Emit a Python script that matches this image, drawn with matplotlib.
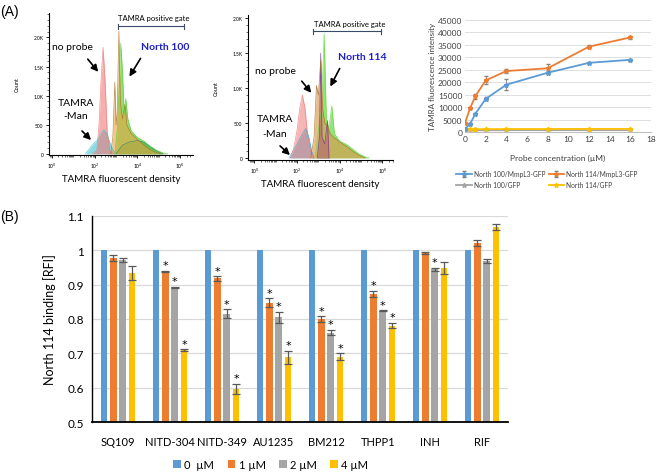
import numpy as np
import matplotlib
matplotlib.use("Agg")
import matplotlib.pyplot as plt
from matplotlib.ticker import FixedLocator, MultipleLocator, LogLocator, NullFormatter

plt.rcParams['font.family'] = ['Lato', 'DejaVu Sans']

# ---------------- data ----------------
# Panel A1 (North 100) histograms: log10 intensity, counts
a1_noprobe_lx = [1.9, 2.1, 2.2, 2.3, 2.39, 2.48, 2.58, 2.7, 2.85]
a1_noprobe_ct = [0, 60, 500, 1300, 1830, 1300, 400, 60, 0]
a1_man_lx = [1.55, 1.7, 1.9, 2.1, 2.3, 2.42, 2.55, 2.7, 2.85, 3.0]
a1_man_ct = [0, 60, 160, 230, 350, 420, 360, 200, 70, 0]
a1_orange_lx = [2.75, 2.85, 2.94, 3.0, 3.05, 3.13, 3.2, 3.3, 3.42, 3.5, 3.7, 4.0, 4.3, 4.6, 4.9, 5.1]
a1_orange_ct = [0, 300, 1230, 500, 700, 2110, 900, 600, 850, 500, 350, 250, 150, 70, 20, 0]
a1_green_lx = [2.95, 3.05, 3.15, 3.22, 3.3, 3.38, 3.45, 3.55, 3.7, 4.0, 4.3, 4.6, 4.9, 5.2, 5.4]
a1_green_ct = [0, 400, 1200, 1900, 1400, 700, 950, 600, 400, 280, 220, 130, 60, 15, 0]
a1_teal_lx = [3.0, 3.3, 3.6, 4.0, 4.3, 4.6, 4.9, 5.2]
a1_teal_ct = [0, 150, 200, 230, 200, 120, 50, 0]

# Panel A2 (North 114) histograms
a2_noprobe_lx = [1.7, 1.85, 2.0, 2.12, 2.25, 2.38, 2.5, 2.65, 2.8]
a2_noprobe_ct = [0, 150, 400, 700, 906, 700, 300, 80, 0]
a2_man_lx = [1.62, 1.8, 2.0, 2.2, 2.41, 2.55, 2.68, 2.8]
a2_man_ct = [0, 90, 200, 320, 427, 300, 100, 0]
a2_orange_lx = [2.64, 2.8, 2.91, 3.0, 3.11, 3.2, 3.3, 3.43, 3.55, 3.7, 4.0, 4.3, 4.6, 4.9, 5.2]
a2_orange_ct = [0, 300, 1040, 900, 1400, 700, 500, 450, 350, 300, 230, 170, 100, 40, 0]
a2_purple_lx = [2.95, 3.05, 3.11, 3.17, 3.3, 3.43, 3.5]
a2_purple_ct = [0, 300, 1500, 300, 200, 537, 0]
a2_green_lx = [2.85, 3.0, 3.15, 3.27, 3.38, 3.5, 3.63, 3.75, 4.0, 4.3, 4.6, 4.9, 5.2, 5.38]
a2_green_ct = [0, 400, 700, 1785, 500, 450, 750, 350, 240, 200, 130, 60, 15, 0]

# Panel A3 line chart
conc = [0, 0.5, 1, 2, 4, 8, 12, 16]
n100_mmpl3 = [1200, 3300, 7300, 13300, 19000, 23800, 27800, 29000]
n100_mmpl3_err = [300, 400, 500, 600, 2200, 600, 500, 500]
n114_mmpl3 = [3700, 9600, 14400, 20700, 24500, 25600, 34300, 38000]
n114_mmpl3_err = [300, 500, 1000, 1600, 800, 1900, 500, 700]
n100_gfp = [700, 700, 700, 700, 750, 750, 750, 750]
n114_gfp = [1100, 1100, 1150, 1150, 1200, 1200, 1250, 1250]
line_labels = ["North 100/MmpL3-GFP", "North 114/MmpL3-GFP", "North 100/GFP", "North 114/GFP"]

# Panel B bar chart
drugs = ["SQ109", "NITD-304", "NITD-349", "AU1235", "BM212", "THPP1", "INH", "RIF"]
doses = ["0  \u00b5M", "1 \u00b5M", "2 \u00b5M", "4 \u00b5M"]
rfi_0 = [1, 1, 1, 1, 1, 1, 1, 1]
rfi_1 = [0.978, 0.938, 0.918, 0.848, 0.800, 0.873, 0.992, 1.021]
rfi_2 = [0.972, 0.892, 0.815, 0.805, 0.760, 0.824, 0.945, 0.970]
rfi_4 = [0.933, 0.710, 0.597, 0.688, 0.690, 0.781, 0.948, 1.068]
err_0 = [0, 0, 0, 0, 0, 0, 0, 0]
err_1 = [0.008, 0.002, 0.007, 0.012, 0.008, 0.010, 0.004, 0.008]
err_2 = [0.006, 0.002, 0.013, 0.016, 0.008, 0.001, 0.004, 0.006]
err_4 = [0.020, 0.002, 0.015, 0.020, 0.010, 0.008, 0.018, 0.008]
sig_1 = [0, 1, 1, 1, 1, 1, 0, 0]
sig_2 = [0, 1, 1, 1, 1, 1, 1, 0]
sig_4 = [0, 1, 1, 1, 1, 1, 0, 0]

# ---------------- figure ----------------
W, H = 656, 477
fig = plt.figure(figsize=(W / 100, H / 100), dpi=100)


def px_axes(l, t, r, b):
    return fig.add_axes([l / W, 1 - b / H, (r - l) / W, (b - t) / H])


def fig_xy(x, y):
    return (x / W, 1 - y / H)


def hist_axes(ax, xl, yl):
    ax.set_xscale('log')
    ax.set_xlim(*xl)
    ax.set_ylim(*yl)
    for s in ['top', 'right']:
        ax.spines[s].set_visible(False)
    for s in ['left', 'bottom']:
        ax.spines[s].set_linewidth(0.8)
    ax.xaxis.set_major_locator(FixedLocator([1, 1e2, 1e4, 1e6]))
    ax.xaxis.set_minor_locator(LogLocator(base=10, subs=np.arange(1, 10)))
    ax.xaxis.set_minor_formatter(NullFormatter())
    ax.set_xticklabels(["10$^0$", "10$^2$", "10$^4$", "10$^6$"])
    ax.set_yticks([0, 500, 1000, 1500, 2000])
    ax.set_yticklabels(["0", "500", "1.0K", "1.5K", "2.0K"])
    ax.yaxis.set_minor_locator(MultipleLocator(100))
    ax.tick_params(labelsize=3.5, length=2.5, width=0.6, pad=1.5)
    ax.tick_params(which='minor', length=1.3, width=0.4)
    ax.set_ylabel("Count", fontsize=4, labelpad=10)
    ax.set_xlabel("TAMRA fluorescent density", fontsize=7, labelpad=3)


def fill(ax, lx, ct, color, alpha=0.55, ec=None):
    xx = 10 ** np.array(lx, dtype=float)
    ax.fill_between(xx, 0, ct, color=color, alpha=alpha, lw=0)
    ax.plot(xx, ct, color=ec or color, lw=0.5, alpha=0.8)


# Panel A1
ax1 = px_axes(49, 14, 193, 156)
hist_axes(ax1, (10 ** -0.14, 10 ** 6.6), (-20, 2420))
fill(ax1, a1_man_lx, a1_man_ct, '#3EC4D0', 0.6)
fill(ax1, a1_noprobe_lx, a1_noprobe_ct, '#F07878', 0.6)
fill(ax1, a1_teal_lx, a1_teal_ct, '#2E7D6A', 0.6)
fill(ax1, a1_green_lx, a1_green_ct, '#52D12E', 0.65)
fill(ax1, a1_orange_lx, a1_orange_ct, '#E8A040', 0.6, '#B07020')

# Panel A2
ax2 = px_axes(248, 16, 393, 161)
hist_axes(ax2, (10 ** -0.3, 10 ** 6.5), (-30, 2050))
fill(ax2, a2_man_lx, a2_man_ct, '#3EA8D0', 0.6)
fill(ax2, a2_noprobe_lx, a2_noprobe_ct, '#F07878', 0.55)
fill(ax2, a2_green_lx, a2_green_ct, '#62DA3A', 0.7)
fill(ax2, a2_purple_lx, a2_purple_ct, '#7A2A9A', 0.75)
fill(ax2, a2_orange_lx, a2_orange_ct, '#D89A50', 0.65, '#A86A20')

# Annotations for A1 / A2
tkw = dict(fontsize=7.5, transform=fig.transFigure, ha='center', va='center')
fig.text(*fig_xy(72, 47), "no probe", **tkw)
fig.text(*fig_xy(76, 103), "TAMRA", **tkw)
fig.text(*fig_xy(76, 117), "-Man", **tkw)
fig.text(*fig_xy(165, 48), "North 100", color='#1F1FC8', fontweight='bold', **tkw)
fig.text(*fig_xy(275, 72), "no probe", **tkw)
fig.text(*fig_xy(275, 120), "TAMRA", **tkw)
fig.text(*fig_xy(275, 135), "-Man", **tkw)
fig.text(*fig_xy(362, 57), "North 114", color='#1F1FC8', fontweight='bold', **tkw)
fig.text(*fig_xy(154, 19), "TAMRA positive gate", fontsize=5.5, transform=fig.transFigure, ha='center', va='center')
fig.text(*fig_xy(350, 25), "TAMRA positive gate", fontsize=5.5, transform=fig.transFigure, ha='center', va='center')

akw = dict(arrowstyle='-|>,head_length=0.5,head_width=0.25', color='black', lw=1.2)
for (x0, y0, x1, y1) in [(86, 58, 100, 75), (80, 130, 93, 143), (142, 57, 128, 80),
                         (300, 80, 313, 96), (278, 145, 292, 158), (341, 67, 329, 90)]:
    fig.add_artist(matplotlib.patches.FancyArrowPatch(fig_xy(x0, y0), fig_xy(x1, y1),
                                                      transform=fig.transFigure, mutation_scale=8, **akw))

for (xa, xb, yy) in [(118, 184, 27), (313, 381, 32)]:
    fig.add_artist(matplotlib.lines.Line2D([xa / W, xb / W], [1 - yy / H] * 2, color='#3A4A6A', lw=0.8))
    for xe in (xa, xb):
        fig.add_artist(matplotlib.lines.Line2D([xe / W] * 2, [1 - (yy - 2.5) / H, 1 - (yy + 2.5) / H],
                                               color='#3A4A6A', lw=0.8))

fig.text(0.0, 1 - 12 / H, "(A)", fontsize=10, va='center', ha='left', family=['Liberation Sans'])
fig.text(0.0, 1 - 217 / H, "(B)", fontsize=10, va='center', ha='left', family=['Liberation Sans'])

# Panel A3
ax3 = px_axes(465, 21, 651, 133)
cols3 = ['#5B9BD5', '#ED7D31', '#A5A5A5', '#FFC000']
h0 = ax3.errorbar(conc, n100_mmpl3, yerr=n100_mmpl3_err, color=cols3[0], ecolor='#808080', elinewidth=0.6,
                  capsize=1.5, lw=1.3, marker='*', ms=3.5, label=line_labels[0])
h1 = ax3.errorbar(conc, n114_mmpl3, yerr=n114_mmpl3_err, color=cols3[1], ecolor='#808080', elinewidth=0.6,
                  capsize=1.5, lw=1.3, marker='*', ms=3.5, label=line_labels[1])
h2, = ax3.plot(conc, n100_gfp, color=cols3[2], lw=1.3, marker='*', ms=3.5, label=line_labels[2])
h3, = ax3.plot(conc, n114_gfp, color=cols3[3], lw=1.3, marker='*', ms=3.5, label=line_labels[3])
ax3.set_xlim(0, 18)
ax3.set_ylim(0, 45000)
ax3.set_xticks(range(0, 19, 2))
ax3.set_yticks(range(0, 45001, 5000))
ax3.grid(axis='y', color='#D9D9D9', lw=0.6)
ax3.set_axisbelow(True)
for s in ['top', 'right', 'left']:
    ax3.spines[s].set_visible(False)
ax3.spines['bottom'].set_color('#BFBFBF')
ax3.tick_params(labelsize=6, length=0, pad=2, colors='#404040')
ax3.set_xlabel("Probe concentration (\u00b5M)", fontsize=6, color='#404040', labelpad=9)
ax3.set_ylabel("TAMRA fluorescence intensity", fontsize=5.8, color='#404040', labelpad=1)
ax3.legend([h0, h2, h1, h3], [line_labels[0], line_labels[2], line_labels[1], line_labels[3]],
           ncol=2, fontsize=4.8, frameon=False, loc='center', bbox_to_anchor=(0.44, -0.42),
           handlelength=2.3, columnspacing=0.5, handletextpad=0.3, labelspacing=0.55, labelcolor='#404040',
           borderpad=0.1)

# Panel B
axb = px_axes(92, 217, 508, 423)
colsb = ['#5B9BD5', '#ED7D31', '#A5A5A5', '#FFC000']
vals = [rfi_0, rfi_1, rfi_2, rfi_4]
errs = [err_0, err_1, err_2, err_4]
sigs = [None, sig_1, sig_2, sig_4]
x = np.arange(len(drugs))
step, bw = 0.18, 0.125
for i in range(4):
    xi = x + (i - 1.5) * step
    axb.bar(xi, vals[i], width=bw, color=colsb[i], label=doses[i], zorder=2)
    if i > 0:
        axb.errorbar(xi, vals[i], yerr=errs[i], fmt='none', ecolor='#595959', elinewidth=0.9,
                     capsize=3, capthick=0.9, zorder=3)
        for j in range(len(drugs)):
            if sigs[i][j]:
                axb.text(xi[j], vals[i][j] + errs[i][j] + 0.016, "*", ha='center', va='center',
                         fontsize=8, zorder=4, family=['DejaVu Sans'])
axb.set_xlim(-0.5, 7.5)
axb.set_ylim(0.5, 1.1)
axb.set_yticks([0.5, 0.6, 0.7, 0.8, 0.9, 1.0, 1.1])
axb.set_yticklabels(["0.5", "0.6", "0.7", "0.8", "0.9", "1", "1.1"])
axb.set_xticks(x)
axb.set_xticklabels(drugs)
axb.grid(axis='y', color='#D9D9D9', lw=0.9)
axb.set_axisbelow(True)
for s in ['top', 'right']:
    axb.spines[s].set_visible(False)
axb.spines['bottom'].set_linewidth(1.3)
axb.spines['left'].set_linewidth(1.0)
axb.tick_params(axis='y', labelsize=8.5, length=0, pad=6)
axb.tick_params(axis='x', labelsize=8, length=0, pad=10)
axb.set_ylabel("North 114 binding [RFI]", fontsize=9, labelpad=8)
axb.legend(ncol=4, fontsize=8, frameon=False, loc='center', bbox_to_anchor=(0.43, -0.205),
           handlelength=0.7, handleheight=0.7, handletextpad=0.3, columnspacing=1.2, borderpad=0.1)

fig.savefig("out.png", dpi=100)
